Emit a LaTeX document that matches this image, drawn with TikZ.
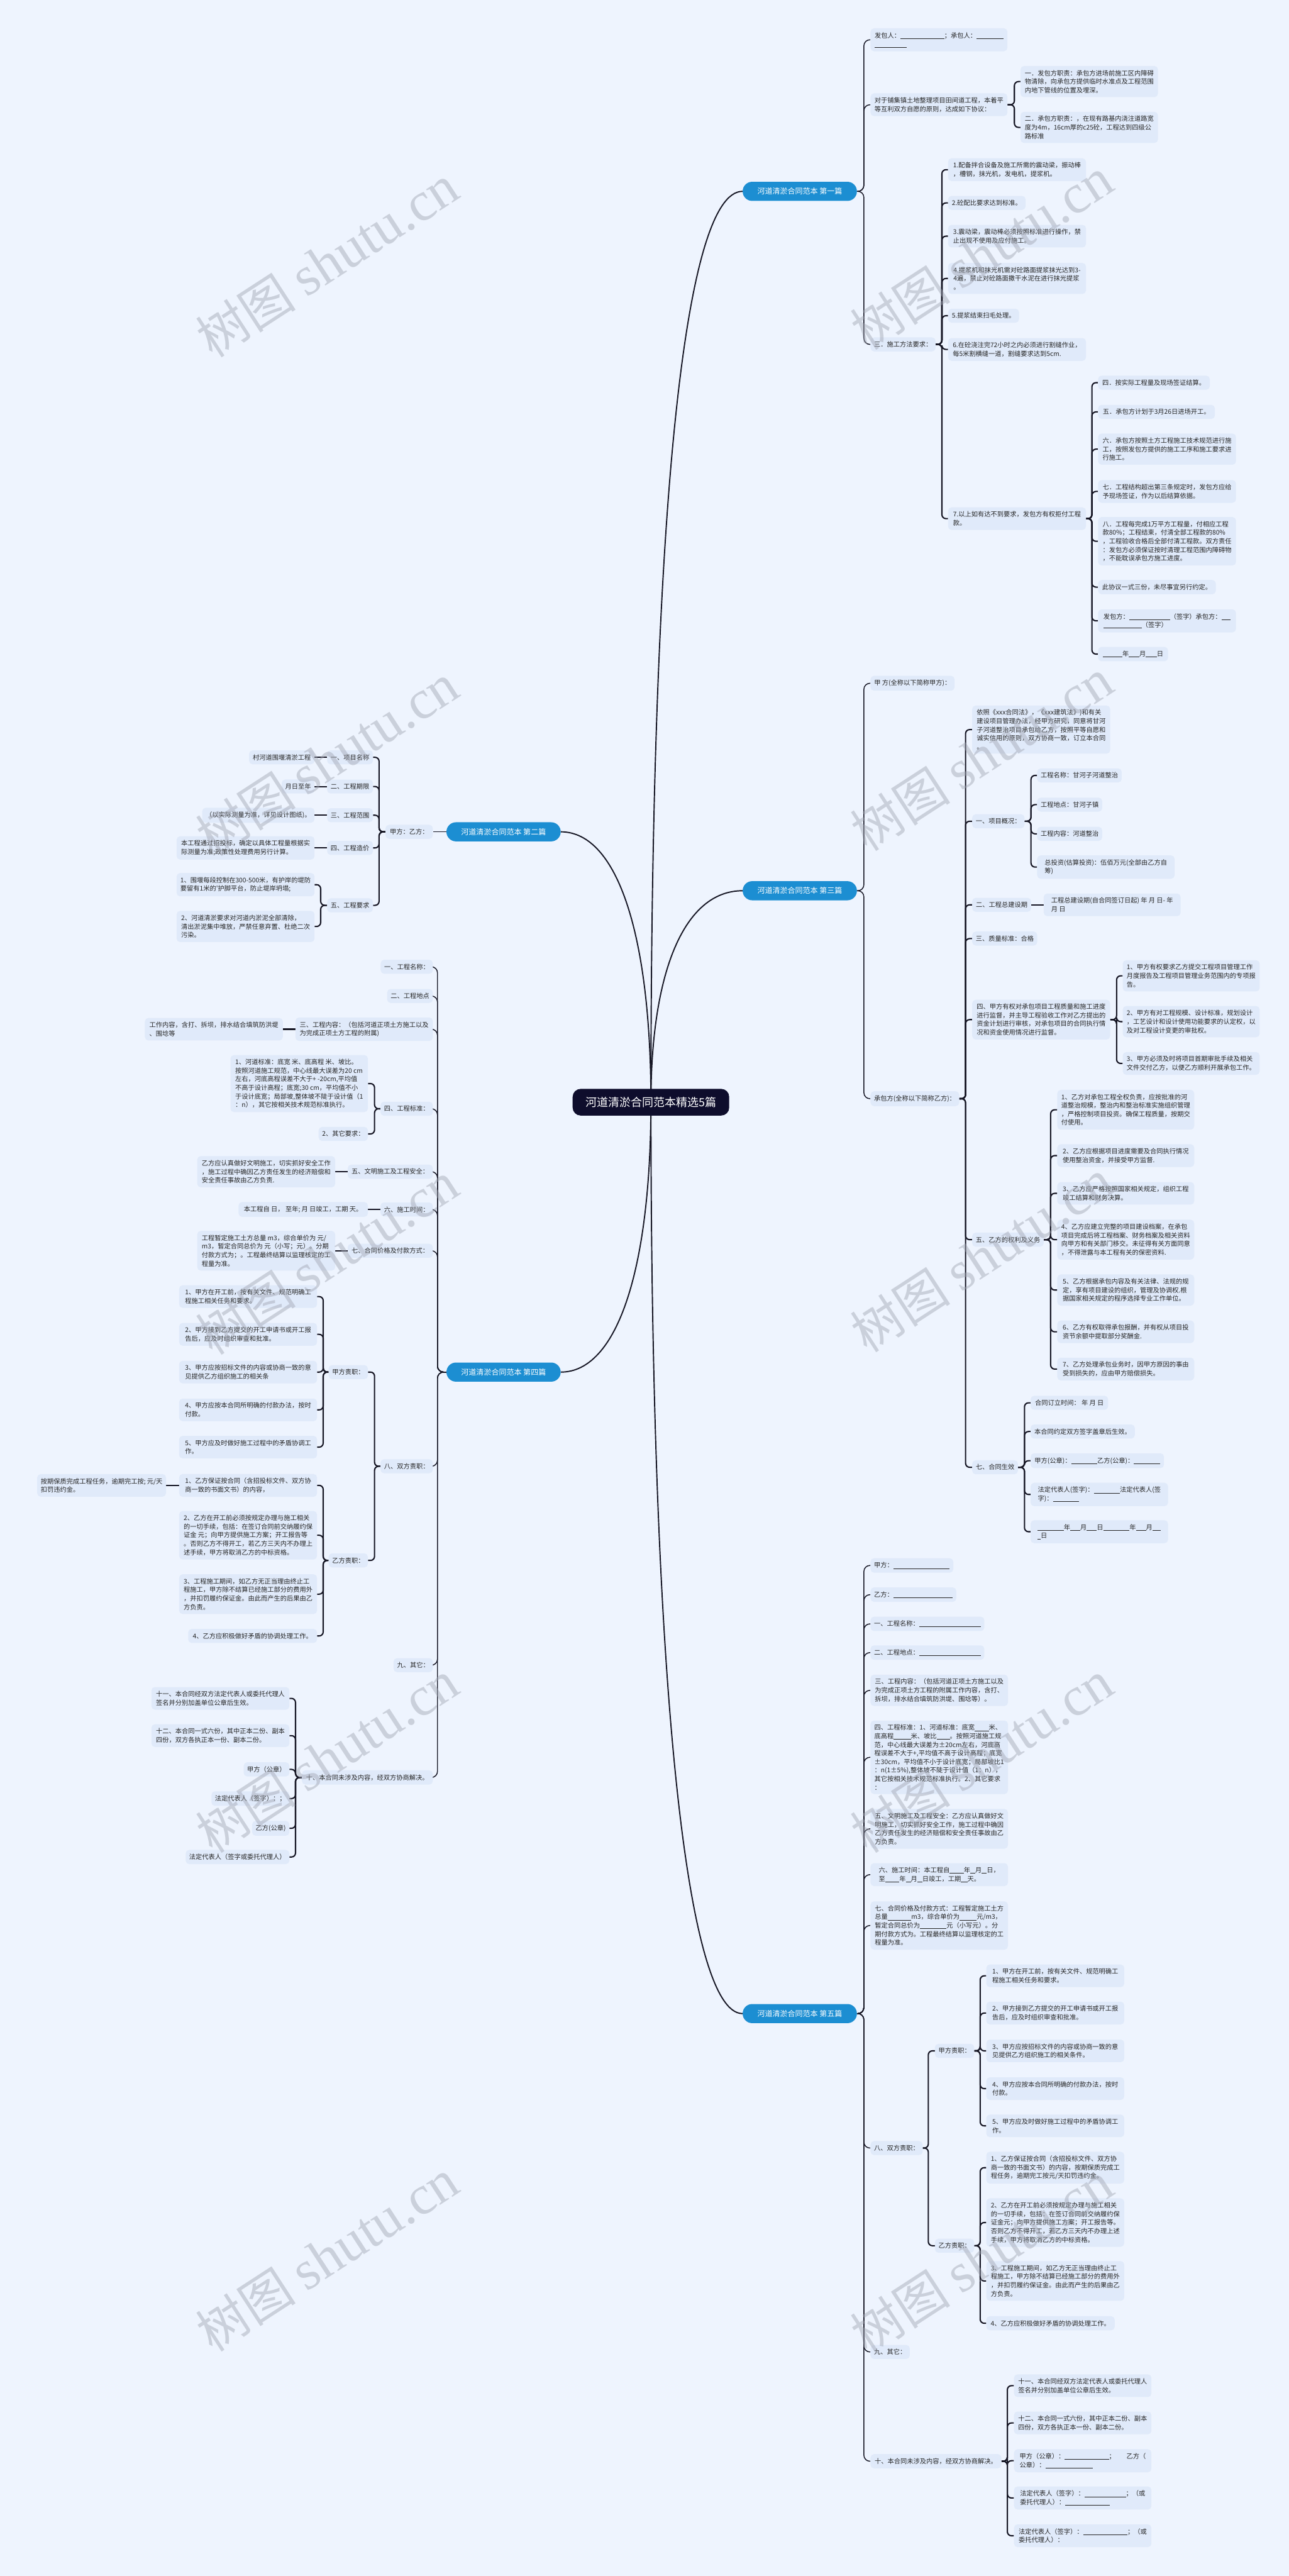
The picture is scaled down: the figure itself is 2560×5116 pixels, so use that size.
\documentclass[tikz,border=0pt]{standalone}
\usepackage{fontspec}
\newfontfamily\cjk{Noto Sans CJK SC}
\newfontfamily\wmlat{Liberation Serif}
\definecolor{bgc}{RGB}{238,244,254}
\definecolor{nodefill}{RGB}{224,234,250}
\definecolor{linec}{RGB}{22,22,36}
\definecolor{textc}{RGB}{38,38,38}
\definecolor{branchc}{RGB}{28,142,210}
\definecolor{rootc}{RGB}{14,13,44}
\definecolor{wmc}{RGB}{160,165,178}
\pgfdeclarelayer{back}\pgfdeclarelayer{links}\pgfdeclarelayer{front}
\pgfsetlayers{back,links,main,front}
\newcommand\bl[1]{\rule[-1.8pt]{#1pt}{0.75pt}}
\newcommand\lkR[4]{\draw[link] (#1.east) -- (#2,#3) |- (#4.west);}
\newcommand\lkL[4]{\draw[link] (#1.west) -- (#2,#3) |- (#4.east);}
\newcommand\loR[4]{\draw[lone] (#1.east) -- (#2,#3) |- (#4.west);}
\newcommand\loL[4]{\draw[lone] (#1.west) -- (#2,#3) |- (#4.east);}
\tikzset{
 box/.style={fill=nodefill, rounded corners=7pt, inner xsep=7pt, inner ysep=8pt, align=left, text=textc, font=\cjk\fontsize{12.8}{17}\selectfont},
 bR/.style={box, anchor=west},
 bL/.style={box, anchor=east},
 branch/.style={fill=branchc, text=white, rounded corners=19pt, minimum width=227pt, minimum height=38pt, inner sep=0pt, font=\cjk\fontsize{15}{18}\selectfont},
 rootnode/.style={fill=rootc, text=white, rounded corners=16pt, minimum width=311pt, minimum height=53pt, inner sep=0pt, font=\cjk\fontsize{22.5}{26}\selectfont},
 link/.style={draw=linec, line width=2.6pt, rounded corners=8pt},
 lone/.style={draw=linec, line width=1.8pt, rounded corners=12pt},
 mainlink/.style={draw=linec, line width=2.4pt},
 wm/.style={text=wmc, opacity=0.45, rotate=33, inner sep=0pt}
}
\begin{document}
\begin{tikzpicture}[x=1pt,y=-1pt]
\begin{pgfonlayer}{back}
\fill[bgc] (0,0) rectangle (2560,5116);
\end{pgfonlayer}
\path[use as bounding box] (0,0) rectangle (2560,5116);

% root and branches
\node[rootnode] (root) at (1293,2189) {河道清淤合同范本精选5篇};
\node[branch, anchor=west] (B1) at (1475,380) {河道清淤合同范本 第一篇};
\node[branch, anchor=east] (B2) at (1114,1652) {河道清淤合同范本 第二篇};
\node[branch, anchor=west] (B3) at (1475,1769) {河道清淤合同范本 第三篇};
\node[branch, anchor=east] (B4) at (1114,2725) {河道清淤合同范本 第四篇};
\node[branch, anchor=west] (B5) at (1475,3999) {河道清淤合同范本 第五篇};

%================ B1
\node[bR, minimum width=272] (n1a) at (1729,79) {发包人：\bl{87}；承包人：\bl{53}\\\bl{64}};
\node[bR, minimum width=272] (n1b) at (1729,208) {对于铺集镇土地整理项目田间道工程，本着平\\等互利双方自愿的原则，达成如下协议：};
\node[bR, minimum width=273] (n1b1) at (2027,162) {一．发包方职责：承包方进场前施工区内障碍\\物清除，向承包方提供临时水准点及工程范围\\内地下管线的位置及埋深。};
\node[bR, minimum width=273] (n1b2) at (2027,253) {二．承包方职责：，在现有路基内浇注道路宽\\度为4m，16cm厚的c25砼，工程达到四级公\\路标准};
\node[bR, minimum width=129] (n1c) at (1729,684) {三．施工方法要求：};
\node[bR, minimum width=274] (n1c1) at (1883,337) {1.配备拌合设备及施工所需的震动梁，振动棒\\，槽钢，抹光机，发电机，提浆机。};
\node[bR, minimum width=154] (n1c2) at (1883,403) {2.砼配比要求达到标准。};
\node[bR, minimum width=274] (n1c3) at (1883,469) {3.震动梁，震动棒必须按照标准进行操作，禁\\止出现不使用及应付施工。};
\node[bR, minimum width=274] (n1c4) at (1883,553) {4.提浆机和抹光机需对砼路面提浆抹光达到3-\\4遍，禁止对砼路面撒干水泥在进行抹光提浆\\。};
\node[bR, minimum width=141] (n1c5) at (1883,627) {5.提浆结束扫毛处理。};
\node[bR, minimum width=274] (n1c6) at (1883,694) {6.在砼浇注完72小时之内必须进行割缝作业，\\每5米割横缝一道，割缝要求达到5cm.};
\node[bR, minimum width=274] (n1c7) at (1883,1030) {7.以上如有达不到要求，发包方有权拒付工程\\款。};
\node[bR, minimum width=222] (n1d1) at (2181,760) {四．按实际工程量及现场签证结算。};
\node[bR, minimum width=232] (n1d2) at (2181,818) {五．承包方计划于3月26日进场开工。};
\node[bR, minimum width=274] (n1d3) at (2181,892) {六．承包方按照土方工程施工技术规范进行施\\工，按照发包方提供的施工工序和施工要求进\\行施工。};
\node[bR, minimum width=274] (n1d4) at (2181,976) {七．工程结构超出第三条规定时，发包方应给\\予现场签证，作为以后结算依据。};
\node[bR, minimum width=274] (n1d5) at (2181,1075) {八．工程每完成1万平方工程量，付相应工程\\款80\%；工程结束，付清全部工程款的80\%\\，工程验收合格后全部付清工程款。双方责任\\：发包方必须保证按时清理工程范围内障碍物\\，不能耽误承包方施工进度。};
\node[bR, minimum width=234] (n1d6) at (2181,1166) {此协议一式三份，未尽事宜另行约定。};
\node[bR, minimum width=274] (n1d7) at (2181,1233) {发包方：\bl{81}（签字）承包方：\bl{18}\\\bl{76}（签字）};
\node[bR, minimum width=139] (n1d8) at (2181,1299) {\bl{39}年\bl{21}月\bl{22}日};

%================ B3
\node[bR, minimum width=167] (n3a) at (1729,1357) {甲 方(全称以下简称甲方)：};
\node[bR, minimum width=175] (n3b) at (1729,2182) {承包方(全称以下简称乙方)：};
\node[bR, minimum width=274] (n3c0) at (1931,1449) {依照《xxx合同法》，《xxx建筑法》)和有关\\建设项目管理办法，经甲方研究，同意将甘河\\子河道整治项目承包给乙方，按照平等自愿和\\诚实信用的原则，双方协商一致，订立本合同\\。};
\node[bR, minimum width=104] (n3c1) at (1931,1631) {一、项目概况：};
\node[bR, minimum width=168] (n3c1a) at (2060,1540) {工程名称：甘河子河道整治};
\node[bR, minimum width=129] (n3c1b) at (2060,1598) {工程地点：甘河子镇};
\node[bR, minimum width=129] (n3c1c) at (2060,1656) {工程内容：河道整治};
\node[bR, minimum width=273] (n3c1d) at (2060,1722) {总投资(估算投资)：伍佰万元(全部由乙方自\\筹)};
\node[bR, minimum width=117] (n3c2) at (1931,1797) {二、工程总建设期};
\node[bR, minimum width=272] (n3c2a) at (2073,1797) {工程总建设期(自合同签订日起) 年 月 日- 年\\月 日};
\node[bR, minimum width=129] (n3c3) at (1931,1864) {三、质量标准：合格};
\node[bR, minimum width=274] (n3c4) at (1931,2025) {四、甲方有权对承包项目工程质量和施工进度\\进行监督，并主导工程验收工作对乙方提出的\\资金计划进行审核，对承包项目的合同执行情\\况和资金使用情况进行监督。};
\node[bR, minimum width=272] (n3c4a) at (2230,1938) {1、甲方有权要求乙方提交工程项目管理工作\\月度报告及工程项目管理业务范围内的专项报\\告。};
\node[bR, minimum width=272] (n3c4b) at (2230,2029) {2、甲方有对工程规模、设计标准，规划设计\\，工艺设计和设计使用功能要求的认定权，以\\及对工程设计变更的审批权。};
\node[bR, minimum width=272] (n3c4c) at (2230,2112) {3、甲方必须及时将项目首期审批手续及相关\\文件交付乙方，以便乙方顺利开展承包工作。};
\node[bR, minimum width=142] (n3c5) at (1931,2462) {五、乙方的权利及义务};
\node[bR, minimum width=272] (n3c5a) at (2100,2204) {1、乙方对承包工程全权负责，应按批准的河\\道整治规模，整治内和整治标准实施组织管理\\，严格控制项目投资。确保工程质量，按期交\\付使用。};
\node[bR, minimum width=272] (n3c5b) at (2100,2295) {2、乙方应根据项目进度需要及合同执行情况\\使用整治资金，并接受甲方监督.};
\node[bR, minimum width=272] (n3c5c) at (2100,2370) {3、乙方应严格按照国家相关规定，组织工程\\竣工结算和财务决算。};
\node[bR, minimum width=272] (n3c5d) at (2100,2462) {4、乙方应建立完整的项目建设档案，在承包\\项目完成后将工程档案、财务档案及相关资料\\向甲方和有关部门移交。未征得有关方面同意\\，不得泄露与本工程有关的保密资料.};
\node[bR, minimum width=272] (n3c5e) at (2100,2562) {5、乙方根据承包内容及有关法律、法规的规\\定，享有项目建设的组织，管理及协调权.根\\据国家相关规定的程序选择专业工作单位。};
\node[bR, minimum width=272] (n3c5f) at (2100,2645) {6、乙方有权取得承包报酬，并有权从项目投\\资节余额中提取部分奖酬金.};
\node[bR, minimum width=272] (n3c5g) at (2100,2719) {7、乙方处理承包业务时，因甲方原因的事由\\受到损失的，应由甲方赔偿损失。};
\node[bR, minimum width=90] (n3c7) at (1931,2914) {七、合同生效};
\node[bR, minimum width=154] (n3c7a) at (2047,2786) {合同订立时间：  年 月 日};
\node[bR, minimum width=207] (n3c7b) at (2047,2843) {本合同约定双方签字盖章后生效。};
\node[bR, minimum width=265] (n3c7c) at (2047,2901) {甲方(公章)：\bl{52}乙方(公章)：\bl{52}};
\node[bR, minimum width=273] (n3c7d) at (2047,2968) {法定代表人(签字)：\bl{52}法定代表人(签\\字)：\bl{52}};
\node[bR, minimum width=273] (n3c7e) at (2047,3042) {\bl{52}年\bl{20}月\bl{20}日\bl{52}年\bl{20}月\bl{17}\\\bl{6}日};

%================ B5
\node[bR, minimum width=161] (n5a) at (1729,3109) {甲方：\bl{112}};
\node[bR, minimum width=167] (n5b) at (1729,3167) {乙方：\bl{118}};
\node[bR, minimum width=226] (n5c) at (1729,3225) {一、工程名称：\bl{122}};
\node[bR, minimum width=226] (n5d) at (1729,3282) {二、工程地点：\bl{122}};
\node[bR, minimum width=273] (n5e) at (1729,3357) {三、工程内容：（包括河道正项土方施工以及\\为完成正项土方工程的附属工作内容，含打、\\拆坝，排水结合填筑防洪堤、围埝等）。};
\node[bR, minimum width=273] (n5f) at (1729,3490) {四、工程标准：1、河道标准：底宽\bl{28}米、\\底高程\bl{34}米、坡比\bl{26}。按照河道施工规\\范，中心线最大误差为±20cm左右，河底高\\程误差不大于+,平均值不高于设计高程；底宽\\±30cm，平均值不小于设计底宽；局部坡比1\\：n(1±5\%),整体坡不陡于设计值（1：n），\\其它按相关技术规范标准执行。2、其它要求\\：};
\node[bR, minimum width=273] (n5g) at (1729,3632) {五、文明施工及工程安全：乙方应认真做好文\\明施工，切实抓好安全工作，施工过程中确因\\乙方责任发生的经济赔偿和安全责任事故由乙\\方负责。};
\node[bR, minimum width=273] (n5h) at (1729,3723) {六、施工时间：本工程自\bl{28}年\bl{10}月\bl{10}日，\\至\bl{28}年\bl{10}月\bl{10}日竣工，工期\bl{13}天。};
\node[bR, minimum width=273] (n5i) at (1729,3824) {七、合同价格及付款方式：工程暂定施工土方\\总量\bl{47}m3，综合单价为\bl{34}元/m3，\\暂定合同总价为\bl{53}元（小写元）。分\\期付款方式为。工程最终结算以监理核定的工\\程量为准。};
\node[bR, minimum width=102] (n5j) at (1729,4266) {八、双方责职：};
\node[bR, minimum width=77] (n5j1) at (1857,4073) {甲方责职：};
\node[bR, minimum width=274] (n5j1a) at (1959,3924) {1、甲方在开工前，按有关文件、规范明确工\\程施工相关任务和要求。};
\node[bR, minimum width=274] (n5j1b) at (1959,3998) {2、甲方接到乙方提交的开工申请书或开工报\\告后，应及时组织审查和批准。};
\node[bR, minimum width=274] (n5j1c) at (1959,4073) {3、甲方应按招标文件的内容或协商一致的意\\见提供乙方组织施工的相关条件。};
\node[bR, minimum width=274] (n5j1d) at (1959,4148) {4、甲方应按本合同所明确的付款办法，按时\\付款。};
\node[bR, minimum width=274] (n5j1e) at (1959,4222) {5、甲方应及时做好施工过程中的矛盾协调工\\作。};
\node[bR, minimum width=77] (n5j2) at (1857,4460) {乙方责职：};
\node[bR, minimum width=274] (n5j2a) at (1959,4305) {1、乙方保证按合同（含招投标文件、双方协\\商一致的书面文书）的内容，按期保质完成工\\程任务，逾期完工按元/天扣罚违约金。};
\node[bR, minimum width=274] (n5j2b) at (1959,4414) {2、乙方在开工前必须按规定办理与施工相关\\的一切手续，包括：在签订合同前交纳履约保\\证金元；向甲方提供施工方案；开工报告等。\\否则乙方不得开工，若乙方三天内不办理上述\\手续，甲方将取消乙方的中标资格。};
\node[bR, minimum width=274] (n5j2c) at (1959,4530) {3、工程施工期间，如乙方无正当理由终止工\\程施工，甲方除不结算已经施工部分的费用外\\，并扣罚履约保证金。由此而产生的后果由乙\\方负责。};
\node[bR, minimum width=255] (n5j2d) at (1959,4614) {4、乙方应积极做好矛盾的协调处理工作。};
\node[bR, minimum width=77] (n5k) at (1729,4671) {九、其它：};
\node[bR, minimum width=260] (n5l) at (1729,4888) {十、本合同未涉及内容，经双方协商解决。};
\node[bR, minimum width=273] (n5l1) at (2014,4738) {十一、本合同经双方法定代表人或委托代理人\\签名并分别加盖单位公章后生效。};
\node[bR, minimum width=273] (n5l2) at (2014,4812) {十二、本合同一式六份，其中正本二份、副本\\四份，双方各执正本一份、副本二份。};
\node[bR, minimum width=273] (n5l3) at (2014,4887) {甲方（公章）：\bl{88}；\hspace{22pt}乙方（\\公章）：\bl{94}};
\node[bR, minimum width=273] (n5l4) at (2014,4961) {法定代表人（签字）：\bl{82}；（或\\委托代理人）：\bl{88}};
\node[bR, minimum width=273] (n5l5) at (2014,5036) {法定代表人（签字）：\bl{88}；（或\\委托代理人）：};

%================ B2 (left)
\node[bL, minimum width=94] (n2) at (860,1652) {甲方：乙方：};
\node[bL, minimum width=91] (n2a) at (741,1504) {一、项目名称};
\node[bL, minimum width=130] (n2a1) at (625,1504) {村河道围堰清淤工程};
\node[bL, minimum width=91] (n2b) at (741,1562) {二、工程期限};
\node[bL, minimum width=65] (n2b1) at (625,1562) {月日至年};
\node[bL, minimum width=91] (n2c) at (741,1619) {三、工程范围};
\node[bL] (n2c1) at (625,1619) {（以实际测量为准，详见设计图纸)。};
\node[bL, minimum width=91] (n2d) at (741,1684) {四、工程造价};
\node[bL, minimum width=274] (n2d1) at (625,1684) {本工程通过招投标，确定以具体工程量根据实\\际测量为准;政策性处理费用另行计算。};
\node[bL, minimum width=91] (n2e) at (741,1798) {五、工程要求};
\node[bL, minimum width=274] (n2e1) at (625,1757) {1、围堰每段控制在300-500米，有护岸的堤防\\要留有1米的'护脚平台，防止堤岸坍塌;};
\node[bL, minimum width=274] (n2e2) at (625,1840) {2、河道清淤要求对河道内淤泥全部清除，\\清出淤泥集中堆放，严禁任意弃置、杜绝二次\\污染。};

%================ B4 (left)
\node[bL, minimum width=94] (n4a) at (860,1920) {一、工程名称：};
\node[bL, minimum width=90] (n4b) at (860,1978) {二、工程地点};
\node[bL, minimum width=273] (n4c) at (860,2044) {三、工程内容：（包括河道正项土方施工以及\\为完成正项土方工程的附属)};
\node[bL, minimum width=274] (n4c1) at (562,2044) {工作内容，含打、拆坝，排水结合填筑防洪堤\\、围埝等};
\node[bL, minimum width=104] (n4d) at (860,2202) {四、工程标准：};
\node[bL, minimum width=273] (n4d1) at (731,2152) {1、河道标准：底宽 米、底高程 米、坡比。\\按照河道施工规范，中心线最大误差为20 cm\\左右，河底高程误差不大于+ -20cm,平均值\\不高于设计高程；底宽;30 cm，平均值不小\\于设计底宽；局部坡,整体坡不陡于设计值（1\\：n），其它按相关技术规范标准执行。};
\node[bL, minimum width=87] (n4d2) at (731,2252) {2、其它要求：};
\node[bL, minimum width=169] (n4e) at (860,2327) {五、文明施工及工程安全：};
\node[bL, minimum width=274] (n4e1) at (666,2327) {乙方应认真做好文明施工，切实抓好安全工作\\，施工过程中确因乙方责任发生的经济赔偿和\\安全责任事故由乙方负责.};
\node[bL, minimum width=104] (n4f) at (860,2402) {六、施工时间：};
\node[bL, minimum width=257] (n4f1) at (731,2402) {本工程自 日， 至年; 月 日竣工，工期 天。};
\node[bL, minimum width=169] (n4g) at (860,2484) {七、合同价格及付款方式：};
\node[bL, minimum width=274] (n4g1) at (666,2484) {工程暂定施工土方总量 m3，综合单价为 元/\\m3，暂定合同总价为 元（小写；元）。分期\\付款方式为；。工程最终结算以监理核定的工\\程量为准。};
\node[bL, minimum width=104] (n4h) at (860,2912) {八、双方责职：};
\node[bL, minimum width=76] (n4h1) at (731,2725) {甲方责职：};
\node[bL, minimum width=274] (n4h1a) at (630,2575) {1、甲方在开工前，按有关文件、规范明确工\\程施工相关任务和要求。};
\node[bL, minimum width=274] (n4h1b) at (630,2650) {2、甲方接到乙方提交的开工申请书或开工报\\告后，应及时组织审查和批准。};
\node[bL, minimum width=274] (n4h1c) at (630,2725) {3、甲方应按招标文件的内容或协商一致的意\\见提供乙方组织施工的相关条};
\node[bL, minimum width=274] (n4h1d) at (630,2800) {4、甲方应按本合同所明确的付款办法，按时\\付款。};
\node[bL, minimum width=274] (n4h1e) at (630,2874) {5、甲方应及时做好施工过程中的矛盾协调工\\作。};
\node[bL, minimum width=76] (n4h2) at (731,3099) {乙方责职：};
\node[bL, minimum width=274] (n4h2a) at (630,2950) {1、乙方保证按合同（含招投标文件、双方协\\商一致的书面文书）的内容，};
\node[bL] (n4h2a1) at (330,2950) {按期保质完成工程任务，逾期完工按; 元/天\\扣罚违约金。};
\node[bL, minimum width=274] (n4h2b) at (630,3049) {2、乙方在开工前必须按规定办理与施工相关\\的一切手续，包括：在签订合同前交纳履约保\\证金 元；向甲方提供施工方案；开工报告等\\。否则乙方不得开工，若乙方三天内不办理上\\述手续，甲方将取消乙方的中标资格。};
\node[bL, minimum width=274] (n4h2c) at (630,3166) {3、工程施工期间，如乙方无正当理由终止工\\程施工，甲方除不结算已经施工部分的费用外\\，并扣罚履约保证金。由此而产生的后果由乙\\方负责。};
\node[bL, minimum width=256] (n4h2d) at (630,3249) {4、乙方应积极做好矛盾的协调处理工作。};
\node[bL, minimum width=77] (n4i) at (860,3307) {九、其它：};
\node[bL, minimum width=260] (n4j) at (860,3530) {十、本合同未涉及内容，经双方协商解决。};
\node[bL, minimum width=274] (n4j1) at (575,3373) {十一、本合同经双方法定代表人或委托代理人\\签名并分别加盖单位公章后生效。};
\node[bL, minimum width=274] (n4j2) at (575,3447) {十二、本合同一式六份，其中正本二份、副本\\四份，双方各执正本一份、副本二份。};
\node[bL, minimum width=83] (n4j3) at (575,3514) {甲方（公章）};
\node[bL, minimum width=147] (n4j4) at (575,3572) {法定代表人（签字）：；};
\node[bL, minimum width=74] (n4j5) at (575,3631) {乙方(公章)};
\node[bL, minimum width=200] (n4j6) at (575,3688) {法定代表人（签字或委托代理人）};

%================ links
\begin{pgfonlayer}{links}
\draw[mainlink] (root.center) .. controls (1293,1000) and (1360,380) .. (B1.west);
\draw[mainlink] (root.center) .. controls (1293,1928) and (1360,1769) .. (B3.west);
\draw[mainlink] (root.center) .. controls (1293,3311) and (1360,3999) .. (B5.west);
\draw[mainlink] (root.center) .. controls (1293,1856) and (1226,1652) .. (B2.east);
\draw[mainlink] (root.center) .. controls (1293,2521) and (1226,2725) .. (B4.east);
% B1
\foreach \c in {n1a,n1b,n1c} {\loR{B1}{1716}{380}{\c}}
\foreach \c in {n1b1,n1b2} {\lkR{n1b}{2015}{208}{\c}}
\foreach \c in {n1c1,n1c2,n1c3,n1c4,n1c5,n1c6,n1c7} {\lkR{n1c}{1871}{684}{\c}}
\foreach \c in {n1d1,n1d2,n1d3,n1d4,n1d5,n1d6,n1d7,n1d8} {\lkR{n1c7}{2169}{1030}{\c}}
% B3
\foreach \c in {n3a,n3b} {\loR{B3}{1716}{1769}{\c}}
\foreach \c in {n3c0,n3c1,n3c2,n3c3,n3c4,n3c5,n3c7} {\lkR{n3b}{1918}{2182}{\c}}
\foreach \c in {n3c1a,n3c1b,n3c1c,n3c1d} {\lkR{n3c1}{2048}{1631}{\c}}
\draw[link] (n3c2.east) -- (n3c2a.west);
\foreach \c in {n3c4a,n3c4b,n3c4c} {\lkR{n3c4}{2218}{2025}{\c}}
\foreach \c in {n3c5a,n3c5b,n3c5c,n3c5d,n3c5e,n3c5f,n3c5g} {\lkR{n3c5}{2087}{2462}{\c}}
\foreach \c in {n3c7a,n3c7b,n3c7c,n3c7d,n3c7e} {\lkR{n3c7}{2035}{2914}{\c}}
% B5
\foreach \c in {n5a,n5b,n5c,n5d,n5e,n5f,n5g,n5h,n5i,n5j,n5k,n5l} {\loR{B5}{1716}{3999}{\c}}
\foreach \c in {n5j1,n5j2} {\lkR{n5j}{1844}{4266}{\c}}
\foreach \c in {n5j1a,n5j1b,n5j1c,n5j1d,n5j1e} {\lkR{n5j1}{1947}{4073}{\c}}
\foreach \c in {n5j2a,n5j2b,n5j2c,n5j2d} {\lkR{n5j2}{1947}{4460}{\c}}
\foreach \c in {n5l1,n5l2,n5l3,n5l4,n5l5} {\lkR{n5l}{2001}{4888}{\c}}
% B2
\draw[lone] (B2.west) -- (n2.east);
\foreach \c in {n2a,n2b,n2c,n2d,n2e} {\lkL{n2}{753}{1652}{\c}}
\draw[link] (n2a.west) -- (n2a1.east);
\draw[link] (n2b.west) -- (n2b1.east);
\draw[link] (n2c.west) -- (n2c1.east);
\draw[link] (n2d.west) -- (n2d1.east);
\foreach \c in {n2e1,n2e2} {\lkL{n2e}{637}{1798}{\c}}
% B4
\foreach \c in {n4a,n4b,n4c,n4d,n4e,n4f,n4g,n4h,n4i,n4j} {\loL{B4}{869}{2725}{\c}}
\draw[link] (n4c.west) -- (n4c1.east);
\foreach \c in {n4d1,n4d2} {\lkL{n4d}{744}{2202}{\c}}
\draw[link] (n4e.west) -- (n4e1.east);
\draw[link] (n4f.west) -- (n4f1.east);
\draw[link] (n4g.west) -- (n4g1.east);
\foreach \c in {n4h1,n4h2} {\lkL{n4h}{744}{2912}{\c}}
\foreach \c in {n4h1a,n4h1b,n4h1c,n4h1d,n4h1e} {\lkL{n4h1}{642}{2725}{\c}}
\foreach \c in {n4h2a,n4h2b,n4h2c,n4h2d} {\lkL{n4h2}{642}{3099}{\c}}
\draw[link] (n4h2a.west) -- (n4h2a1.east);
\foreach \c in {n4j1,n4j2,n4j3,n4j4,n4j5,n4j6} {\lkL{n4j}{587}{3530}{\c}}
\end{pgfonlayer}

%================ watermark
\begin{pgfonlayer}{front}
\foreach \yy in {0,1,2,3,4} {
  \node[wm] (wl\yy) at (650,520+990*\yy) {\cjk\fontsize{100}{100}\selectfont 树图 \wmlat\fontsize{110}{110}\selectfont shutu.cn};
  \node[wm] (wr\yy) at (1950,505+995*\yy) {\cjk\fontsize{100}{100}\selectfont 树图 \wmlat\fontsize{110}{110}\selectfont shutu.cn};
}
\end{pgfonlayer}
\end{tikzpicture}
\end{document}
